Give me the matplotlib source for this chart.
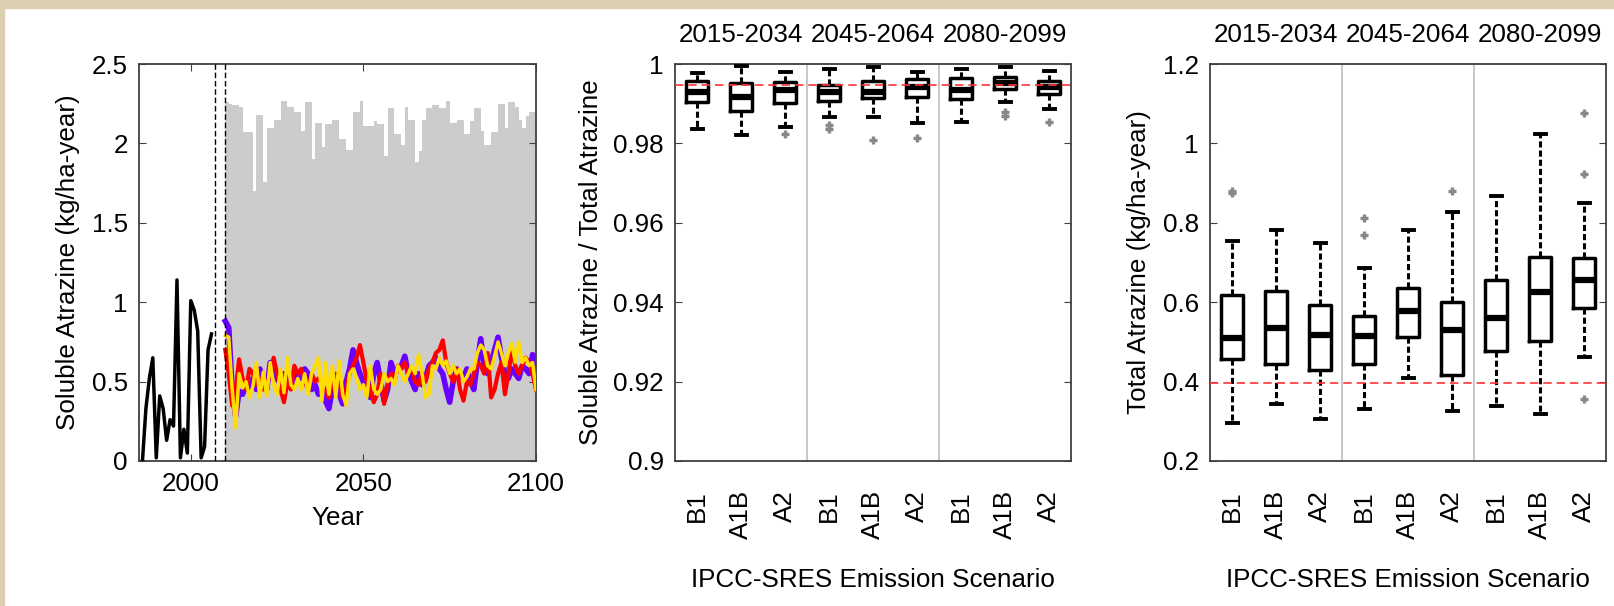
import numpy as np
import matplotlib
matplotlib.use("Agg")
from matplotlib import pyplot as plt
from matplotlib.patches import Rectangle
from matplotlib.transforms import blended_transform_factory

plt.rcParams['font.family'] = ['Liberation Sans', 'DejaVu Sans']
plt.rcParams['font.size'] = 18.7

# ---- panel 1 data ----
hist_years = list(range(1986, 2007))
hist_vals = [0.00, 0.33, 0.52, 0.65, 0.02, 0.41, 0.33, 0.13, 0.26, 0.22, 1.14,
             0.02, 0.20, 0.05, 1.01, 0.95, 0.82, 0.02, 0.09, 0.70, 0.80]

proj_years = list(range(2010, 2101))
total_gray = [2.26, 2.25, 2.24, 2.24, 2.23, 2.07, 2.07, 2.07, 1.70, 2.18,
              2.18, 1.76, 2.10, 2.10, 2.15, 2.15, 2.27, 2.27, 2.23, 2.23,
              2.20, 2.20, 2.08, 2.26, 2.26, 1.90, 2.13, 2.13, 1.98, 2.12,
              2.12, 2.15, 2.15, 2.03, 2.03, 1.96, 1.96, 2.20, 2.20, 2.27,
              2.11, 2.11, 2.11, 2.14, 2.12, 2.12, 1.92, 2.22, 2.22, 2.06,
              2.06, 1.99, 2.23, 2.15, 2.15, 1.88, 1.95, 2.15, 2.22, 2.22,
              2.24, 2.24, 2.22, 2.22, 2.27, 2.13, 2.13, 2.15, 2.15, 2.06,
              2.06, 2.14, 2.22, 2.22, 2.08, 1.99, 1.99, 2.07, 2.07, 2.25,
              2.25, 2.10, 2.26, 2.26, 2.23, 2.15, 2.10, 2.17, 2.20, 2.20, 2.20]

sol_purple = [0.88, 0.84, 0.45, 0.28, 0.44, 0.42, 0.48, 0.44, 0.52, 0.45,
              0.58, 0.50, 0.45, 0.62, 0.60, 0.52, 0.48, 0.55, 0.50, 0.46,
              0.50, 0.55, 0.52, 0.58, 0.55, 0.45, 0.48, 0.42, 0.45, 0.38,
              0.33, 0.45, 0.52, 0.42, 0.36, 0.50, 0.58, 0.70, 0.62, 0.55,
              0.50, 0.45, 0.40, 0.55, 0.62, 0.50, 0.38, 0.45, 0.62, 0.55,
              0.58, 0.60, 0.66, 0.55, 0.50, 0.45, 0.55, 0.48, 0.52, 0.60,
              0.62, 0.65, 0.58, 0.55, 0.45, 0.37, 0.50, 0.58, 0.55, 0.52,
              0.58, 0.50, 0.45, 0.62, 0.77, 0.60, 0.55, 0.62, 0.70, 0.78,
              0.65, 0.55, 0.52, 0.58, 0.55, 0.52, 0.60, 0.58, 0.55, 0.67, 0.62]
sol_red = [0.70, 0.55, 0.35, 0.45, 0.64, 0.52, 0.45, 0.58, 0.55, 0.48,
           0.52, 0.45, 0.48, 0.55, 0.65, 0.55, 0.45, 0.37, 0.50, 0.45,
           0.60, 0.55, 0.58, 0.50, 0.45, 0.55, 0.50, 0.52, 0.48, 0.45,
           0.40, 0.48, 0.55, 0.50, 0.40, 0.45, 0.55, 0.60, 0.65, 0.73,
           0.62, 0.50, 0.45, 0.37, 0.42, 0.55, 0.36, 0.48, 0.55, 0.50,
           0.60, 0.58, 0.62, 0.55, 0.58, 0.50, 0.48, 0.55, 0.50, 0.58,
           0.62, 0.68, 0.70, 0.76, 0.62, 0.55, 0.50, 0.58, 0.45, 0.38,
           0.50, 0.48, 0.55, 0.62, 0.60, 0.55, 0.68, 0.40, 0.45, 0.55,
           0.62, 0.42, 0.55, 0.70, 0.60, 0.55, 0.60, 0.65, 0.62, 0.55, 0.45]
sol_yellow = [0.79, 0.78, 0.45, 0.21, 0.55, 0.46, 0.50, 0.40, 0.47, 0.62,
              0.40, 0.56, 0.41, 0.62, 0.48, 0.42, 0.58, 0.43, 0.65, 0.48,
              0.45, 0.52, 0.45, 0.55, 0.42, 0.55, 0.60, 0.65, 0.38, 0.62,
              0.42, 0.60, 0.40, 0.63, 0.42, 0.35, 0.55, 0.58, 0.52, 0.45,
              0.48, 0.40, 0.60, 0.45, 0.42, 0.45, 0.55, 0.50, 0.52, 0.48,
              0.60, 0.55, 0.50, 0.55, 0.60, 0.55, 0.67, 0.55, 0.40, 0.42,
              0.60, 0.58, 0.65, 0.60, 0.63, 0.55, 0.60, 0.55, 0.58, 0.50,
              0.53, 0.58, 0.58, 0.68, 0.73, 0.70, 0.60, 0.58, 0.66, 0.75,
              0.68, 0.60, 0.68, 0.74, 0.62, 0.75, 0.62, 0.65, 0.60, 0.62, 0.45]

# ---- boxplot data ----
scenarios = ['B1', 'A1B', 'A2'] * 3
periods = ['2015-2034', '2045-2064', '2080-2099']

ratio_whislo = [0.98363, 0.98212, 0.98421, 0.98657, 0.98657, 0.98506, 0.98531, 0.99034, 0.98858]
ratio_q1 = [0.99051, 0.98824, 0.99026, 0.99076, 0.99135, 0.99160, 0.99110, 0.99362, 0.99244]
ratio_med = [0.99286, 0.99177, 0.99345, 0.99286, 0.99303, 0.99412, 0.99345, 0.99530, 0.99412]
ratio_q3 = [0.99572, 0.99513, 0.99538, 0.99471, 0.99580, 0.99622, 0.99639, 0.99664, 0.99580]
ratio_whishi = [0.99765, 0.99950, 0.99807, 0.99874, 0.99916, 0.99807, 0.99874, 0.99933, 0.99824]
ratio_fliers = [[], [], [0.98237], [0.98464, 0.98354], [0.98086], [0.98145], [], [0.98799, 0.98690], [0.98539]]
ratio_ref = 0.9947

tot_whislo = [0.296, 0.343, 0.306, 0.330, 0.410, 0.326, 0.339, 0.319, 0.461]
tot_q1 = [0.457, 0.444, 0.430, 0.444, 0.512, 0.417, 0.478, 0.502, 0.585]
tot_med = [0.511, 0.534, 0.517, 0.515, 0.577, 0.529, 0.559, 0.625, 0.656]
tot_q3 = [0.617, 0.628, 0.594, 0.566, 0.637, 0.600, 0.656, 0.715, 0.711]
tot_whishi = [0.753, 0.781, 0.750, 0.686, 0.781, 0.826, 0.867, 1.024, 0.849]
tot_fliers = [[0.874, 0.880], [], [], [0.811, 0.769], [], [0.881], [], [], [1.076, 0.922, 0.355]]
tot_ref = 0.397

fig = plt.figure(figsize=(16.14, 6.06), dpi=100)
fig.patches.append(Rectangle((0, 1 - 8 / 606), 1, 8 / 606, transform=fig.transFigure,
                             color='#ddd0b0', zorder=0))
fig.patches.append(Rectangle((0, 0), 4 / 1614, 1, transform=fig.transFigure,
                             color='#ddd0b0', zorder=0))

bottom = (606 - 461) / 606
height = 397 / 606
ax0 = fig.add_axes([139 / 1614, bottom, 397 / 1614, height])
ax1 = fig.add_axes([675 / 1614, bottom, 396 / 1614, height])
ax2 = fig.add_axes([1210 / 1614, bottom, 396 / 1614, height])

spine_c = '#404040'
for ax in (ax0, ax1, ax2):
    for s in ax.spines.values():
        s.set_color(spine_c)
        s.set_linewidth(1.3)

# ---- panel 1 ----
ax0.fill_between(proj_years, 0, total_gray, step='post', color='#cccccc', lw=0, zorder=1)
ax0.plot(proj_years, sol_purple, color='#6a00ff', lw=4, zorder=2)
ax0.plot(proj_years, sol_red, color='#ff0000', lw=3, zorder=3)
ax0.plot(proj_years, sol_yellow, color='#ffdd00', lw=2.5, zorder=4)
ax0.plot(hist_years, hist_vals, color='black', lw=2.5, zorder=5)
for xv in (2007, 2010):
    ax0.axvline(xv, color='black', lw=1, ls=(0, (4, 2)), zorder=6)
ax0.set_xlim(1985, 2100)
ax0.set_ylim(0, 2.5)
ax0.set_xticks([2000, 2050, 2100])
ax0.set_yticks([0, 0.5, 1, 1.5, 2, 2.5])
ax0.set_yticklabels(['0', '0.5', '1', '1.5', '2', '2.5'])
ax0.tick_params(direction='in', top=True, right=True, length=5, color=spine_c)
ax0.tick_params(axis='x', pad=8)
ax0.tick_params(axis='y', pad=8)
ax0.set_xlabel('Year')
ax0.xaxis.set_label_coords(0.5, -0.113)
ax0.set_ylabel('Soluble Atrazine (kg/ha-year)')
ax0.yaxis.set_label_coords(-0.148, 0.5)


def draw_boxes(ax, whislo, q1, med, q3, whishi, fliers, ref, ylim, yticks, yticklabels, ylabel, ylab_x):
    stats = []
    for i in range(len(med)):
        stats.append(dict(whislo=whislo[i], q1=q1[i], med=med[i], q3=q3[i],
                          whishi=whishi[i], fliers=fliers[i]))
    for xv in (3.5, 6.5):
        ax.axvline(xv, color='#b8b8b8', lw=1.1, zorder=1)
    ax.bxp(stats, positions=range(1, 10), widths=0.5, capwidths=0.25,
           boxprops=dict(color='black', lw=2.5),
           medianprops=dict(color='black', lw=4.5),
           whiskerprops=dict(color='black', lw=2.2, ls=(0, (2, 1))),
           capprops=dict(color='black', lw=2.8),
           flierprops=dict(marker='+', markeredgecolor='#888888', markersize=5.5, mew=2.4),
           zorder=3)
    ax.axhline(ref, color='#ff3333', lw=1.2, ls=(0, (5, 3)), zorder=4)
    ax.set_xlim(0.5, 9.5)
    ax.set_ylim(*ylim)
    ax.set_yticks(yticks)
    ax.set_yticklabels(yticklabels)
    ax.set_xticks(range(1, 10))
    ax.set_xticklabels(scenarios, rotation=90)
    ax.tick_params(axis='y', direction='in', right=True, length=5, color=spine_c, pad=8)
    ax.tick_params(axis='x', length=0, pad=21)
    ax.set_xlabel('IPCC-SRES Emission Scenario')
    ax.xaxis.set_label_coords(0.5, -0.27)
    ax.set_ylabel(ylabel)
    ax.yaxis.set_label_coords(ylab_x, 0.5)
    tr = blended_transform_factory(ax.transData, ax.transAxes)
    for j, p in enumerate(periods):
        ax.text(2 + 3 * j, 1.072, p, transform=tr, ha='center', va='center')


draw_boxes(ax1, ratio_whislo, ratio_q1, ratio_med, ratio_q3, ratio_whishi, ratio_fliers,
           ratio_ref, (0.9, 1.0), [0.9, 0.92, 0.94, 0.96, 0.98, 1.0],
           ['0.9', '0.92', '0.94', '0.96', '0.98', '1'],
           'Soluble Atrazine / Total Atrazine', -0.182)
draw_boxes(ax2, tot_whislo, tot_q1, tot_med, tot_q3, tot_whishi, tot_fliers,
           tot_ref, (0.2, 1.2), [0.2, 0.4, 0.6, 0.8, 1.0, 1.2],
           ['0.2', '0.4', '0.6', '0.8', '1', '1.2'],
           'Total Atrazine (kg/ha-year)', -0.148)

fig.savefig('out.png', dpi=100)
